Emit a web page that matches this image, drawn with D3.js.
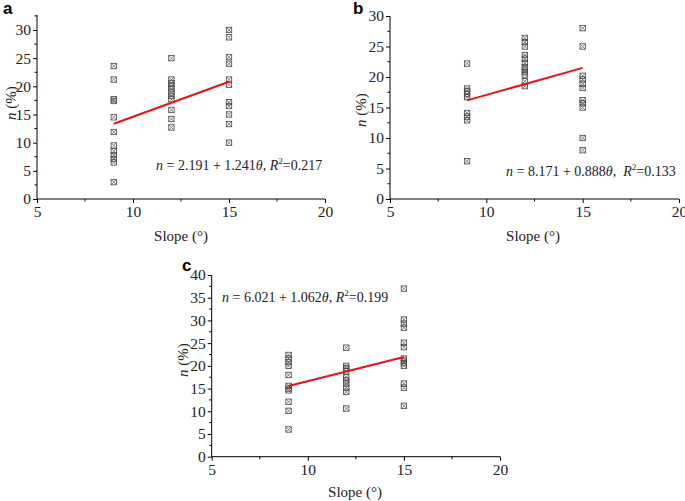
<!DOCTYPE html>
<html><head><meta charset="utf-8">
<script src="https://cdn.jsdelivr.net/npm/d3@7"></script>
<style>body{margin:0;background:#fff}svg{display:block}text{white-space:pre}</style>
</head><body>
<svg id="chart" width="685" height="501"></svg>
<script>
// ---- data ----
const slopeA = [9,9,9,9,9,9,9,9,9,9,9,9, 12,12,12,12,12,12,12,12,12,12,12, 15,15,15,15,15,15,15,15,15,15,15];
const nA = [23.6,21.2,17.7,17.4,14.5,11.9,9.5,8.5,7.8,7.1,6.5,3.0,
            25.0,21.2,20.6,20.0,19.5,18.9,18.3,17.7,15.8,14.2,12.7,
            30.0,28.7,25.2,24.0,21.2,20.3,17.2,16.5,15.0,13.3,10.0];
const slopeB = [9,9,9,9,9,9,9,9,9, 12,12,12,12,12,12,12,12,12,12,12,12, 15,15,15,15,15,15,15,15,15,15,15];
const nB = [22.2,18.1,17.7,17.2,16.7,14.1,13.5,12.9,6.2,
            26.4,25.7,25.0,23.6,23.0,22.3,21.6,21.2,20.8,20.4,19.3,18.5,
            28.0,25.0,20.2,19.6,18.9,18.2,16.2,15.7,15.0,10.0,8.0];
const slopeC = [9,9,9,9,9,9,9,9,9,9,9, 12,12,12,12,12,12,12,12,12,12, 15,15,15,15,15,15,15,15,15,15,15,15,15];
const nC = [22.4,21.6,20.8,20.0,18.0,15.6,15.0,14.6,12.1,10.1,6.0,
            24.0,20.0,19.5,18.8,17.5,16.8,16.1,15.2,14.3,10.6,
            37.0,30.2,29.3,28.4,25.1,24.1,21.6,21.1,20.6,20.0,16.1,15.2,11.2];
const fitIntercept = [2.191, 8.171, 6.021];
const fitSlope = [1.241, 0.888, 1.062];
const fitR2 = ["0.217", "0.133", "0.199"];
const xTicks = [5, 10, 15, 20];
const yTicksA = [0, 5, 10, 15, 20, 25, 30];
const yTicksB = [0, 5, 10, 15, 20, 25, 30];
const yTicksC = [0, 5, 10, 15, 20, 25, 30, 35, 40];
const panelLetters = ["a", "b", "c"];
const xTitle = "Slope (°)";

// ---- layout ----
const svg = d3.select("#chart");
const panels = [
  {letter: panelLetters[0], xs: slopeA, ys: nA, yTicks: yTicksA, yDom: [0, 30], yRange: [199, 30], yTopPx: 15, extraMinor: [32.5],
   x0: 37, x1: 325, letterPos: [3, 14], eq: [156, 170], eqSep: ", ", xtPos: [181, 241], ytPos: [16, 103], fi: 0},
  {letter: panelLetters[1], xs: slopeB, ys: nB, yTicks: yTicksB, yDom: [0, 30], yRange: [199, 16], yTopPx: 16, extraMinor: [],
   x0: 390, x1: 679, letterPos: [353, 14], eq: [506, 176], eqSep: ",  ", xtPos: [533, 241], ytPos: [366, 110], fi: 1},
  {letter: panelLetters[2], xs: slopeC, ys: nC, yTicks: yTicksC, yDom: [0, 40], yRange: [456.7, 275], yTopPx: 275, extraMinor: [],
   x0: 211.7, x1: 500, letterPos: [182, 271], eq: [222, 302], eqSep: ", ", xtPos: [355, 497], ytPos: [188, 360], fi: 2}
];

const serif = "'Liberation Serif','Times New Roman',serif";

panels.forEach(p => {
  const x = d3.scaleLinear().domain([5, 20]).range([p.x0, p.x1]);
  const y = d3.scaleLinear().domain(p.yDom).range(p.yRange);
  const g = svg.append("g");

  // minor ticks
  const xMinor = [7.5, 12.5, 17.5];
  g.selectAll(".xm").data(xMinor).join("line")
    .attr("x1", d => x(d)).attr("x2", d => x(d))
    .attr("y1", y(0)).attr("y2", y(0) + 2.5)
    .attr("stroke", "#000").attr("stroke-width", 1);
  const yMinor = p.yTicks.slice(0, -1).map(d => d + 2.5).concat(p.extraMinor);
  g.selectAll(".ym").data(yMinor).join("line")
    .attr("x1", x(5)).attr("x2", x(5) - 2.5)
    .attr("y1", d => y(d)).attr("y2", d => y(d))
    .attr("stroke", "#000").attr("stroke-width", 1);

  // axes
  const xAxis = d3.axisBottom(x).tickValues(xTicks).tickSize(4).tickPadding(3).tickFormat(d3.format("d"));
  const yAxis = d3.axisLeft(y).tickValues(p.yTicks).tickSize(4).tickPadding(2).tickFormat(d3.format("d"));
  const gx = g.append("g").attr("transform", `translate(0,${y(0)})`).call(xAxis);
  const gy = g.append("g").attr("transform", `translate(${x(5)},0)`).call(yAxis);
  gx.select(".domain").attr("d", `M${x(5)},0H${x(20)}`);
  gy.select(".domain").attr("d", `M0,${y(0)}V${p.yTopPx}`);
  [gx, gy].forEach(a => {
    a.selectAll("text").attr("font-family", serif).attr("font-size", 15.5).attr("fill", "#222");
    a.selectAll("line,path").attr("stroke", "#000");
  });

  // points
  const pts = p.xs.map((d, i) => [d, p.ys[i]]);
  const s = 2.7;
  const mk = g.selectAll(".pt").data(pts).join("g")
    .attr("transform", d => `translate(${x(d[0])},${y(d[1])})`);
  mk.append("rect").attr("x", -s).attr("y", -s).attr("width", 2 * s).attr("height", 2 * s)
    .attr("fill", "none").attr("stroke", "#444").attr("stroke-width", 0.8);
  mk.append("path").attr("d", `M${-s},${-s}L${s},${s}M${-s},${s}L${s},${-s}`)
    .attr("stroke", "#555").attr("stroke-width", 0.7);

  // fit line
  const a0 = fitIntercept[p.fi], b0 = fitSlope[p.fi];
  const line = d3.line().x(d => x(d)).y(d => y(a0 + b0 * d));
  g.append("path").datum([9, 15]).attr("d", line)
    .attr("stroke", "#ee1111").attr("stroke-width", 2).attr("fill", "none");

  // equation
  const t = g.append("text").attr("x", p.eq[0]).attr("y", p.eq[1])
    .attr("font-family", serif).attr("font-size", 14).attr("fill", "#222");
  t.append("tspan").attr("font-style", "italic").text("n");
  t.append("tspan").text(` = ${a0.toFixed(3)} + ${b0.toFixed(3)}`);
  t.append("tspan").attr("font-style", "italic").text("θ");
  t.append("tspan").text(p.eqSep);
  t.append("tspan").attr("font-style", "italic").text("R");
  t.append("tspan").attr("font-size", 9).attr("dy", -6).text("2");
  t.append("tspan").attr("dy", 6).text("=" + fitR2[p.fi]);

  // axis titles
  g.append("text").attr("x", p.xtPos[0]).attr("y", p.xtPos[1]).attr("text-anchor", "middle")
    .attr("font-family", serif).attr("font-size", 15).attr("fill", "#222").text(xTitle);
  const yt = g.append("text").attr("transform", `translate(${p.ytPos[0]},${p.ytPos[1]}) rotate(-90)`)
    .attr("text-anchor", "middle").attr("font-family", serif).attr("font-size", 15).attr("fill", "#222");
  yt.append("tspan").attr("font-style", "italic").text("n");
  yt.append("tspan").text(" (%)");

  // panel letter
  g.append("text").attr("x", p.letterPos[0]).attr("y", p.letterPos[1])
    .attr("font-family", "'Liberation Sans',Arial,sans-serif").attr("font-weight", "bold")
    .attr("font-size", 17).attr("fill", "#000").text(p.letter);
});
</script>
</body></html>
